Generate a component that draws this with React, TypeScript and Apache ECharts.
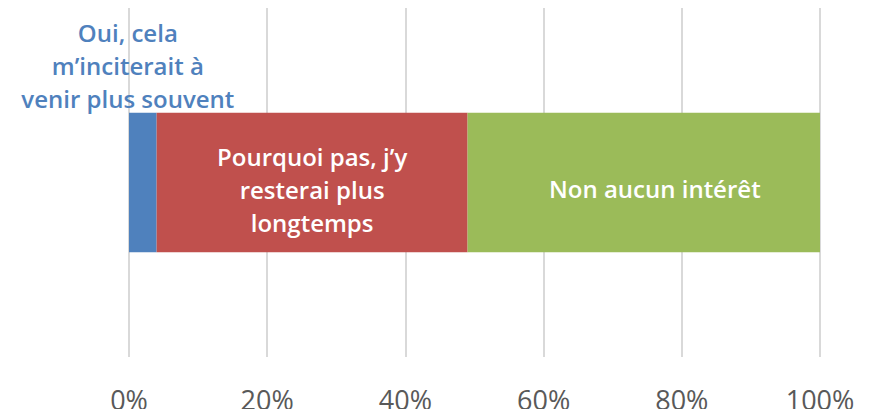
import React, { useEffect, useRef } from "react";
import * as echarts from "echarts";

const categories = ["Réponse"];
const seriesNames = [
  "Oui, cela\nm’inciterait à\nvenir plus souvent",
  "Pourquoi pas, j’y\nresterai plus\nlongtemps",
  "Non aucun intérêt",
];
const seriesValues = [[4], [45], [51]];
const seriesColors = ["#4F81BD", "#C0504D", "#9BBB59"];
const tickValues = [0, 20, 40, 60, 80, 100];

const FONT = "'Open Sans', sans-serif";

export default function App() {
  const ref = useRef<HTMLDivElement>(null);
  useEffect(() => {
    if (!ref.current) return;
    const chart = echarts.init(ref.current, undefined, { renderer: "svg" });
    const labelConfigs: any[] = [
      {
        show: true,
        position: "top",
        distance: -2,
        offset: [-15, 0],
        color: "#4F81BD",
        fontFamily: FONT,
        fontWeight: 600,
        fontSize: 24,
        lineHeight: 33,
        align: "center",
        formatter: () => seriesNames[0],
      },
      {
        show: true,
        position: "inside",
        offset: [0, 7],
        color: "#FFFFFF",
        fontFamily: FONT,
        fontWeight: 600,
        fontSize: 24,
        lineHeight: 33,
        align: "center",
        formatter: () => seriesNames[1],
      },
      {
        show: true,
        position: "inside",
        offset: [11, 6],
        color: "#FFFFFF",
        fontFamily: FONT,
        fontWeight: 600,
        fontSize: 24,
        align: "center",
        formatter: () => seriesNames[2],
      },
    ];
    chart.setOption({
      animation: false,
      grid: { left: 129, right: 57, top: 8, bottom: 60, containLabel: false },
      xAxis: {
        type: "value",
        min: 0,
        max: tickValues[tickValues.length - 1],
        interval: 20,
        axisLine: { show: false },
        axisTick: { show: false },
        splitLine: { lineStyle: { color: "#D9D9D9", width: 2 } },
        axisLabel: {
          formatter: (v: number) => `${v}%`,
          color: "#595959",
          fontFamily: FONT,
          fontSize: 27,
          margin: 29,
        },
      },
      yAxis: {
        type: "category",
        data: categories,
        show: false,
      },
      series: seriesNames.map((name, i) => ({
        name,
        type: "bar",
        stack: "total",
        data: seriesValues[i],
        barWidth: "40%",
        itemStyle: { color: seriesColors[i] },
        label: labelConfigs[i],
      })),
    });
    return () => chart.dispose();
  }, []);
  return <div ref={ref} style={{ width: 877, height: 417, margin: -8 }} />;
}
